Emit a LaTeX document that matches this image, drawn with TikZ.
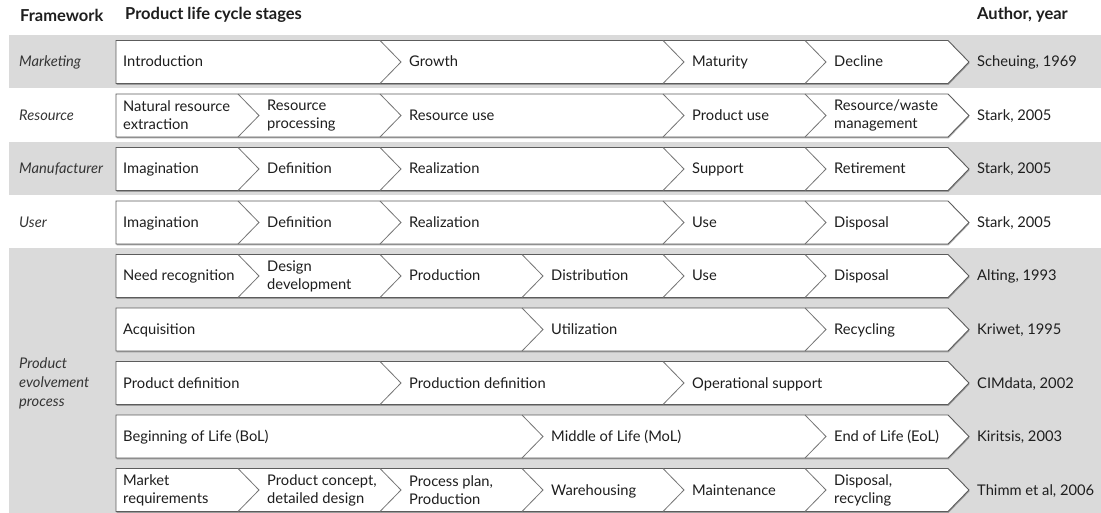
\documentclass[tikz,border=0pt]{standalone}
\usepackage{fontspec}
\setmainfont{Lato}
\definecolor{plcink}{HTML}{1E1E1E}
\definecolor{plcband}{HTML}{DADADA}
\definecolor{plcedge}{HTML}{5C5C5C}
\usetikzlibrary{shadows}

\begin{document}
\begin{tikzpicture}[x=1pt,y=-1pt,
  font=\fontsize{14.7}{18}\selectfont,
  headtext/.style={anchor=west,inner sep=0pt,text=plcink,font=\fontsize{16.5}{19}\selectfont\bfseries},
  frametext/.style={anchor=west,inner sep=0pt,text=plcink!90,align=left,font=\fontsize{14.7}{19}\selectfont\itshape},
  stagetext/.style={anchor=west,inner sep=0pt,text=plcink,text height=11pt,text depth=1pt},
  stagetwo/.style={anchor=west,inner sep=0pt,text=plcink,align=left},
  authortext/.style={anchor=west,inner sep=0pt,text=plcink,text height=11pt,text depth=1pt},
  band/.style={fill=plcband},
  rowbox/.style={draw=plcedge,line width=0.9pt,fill=white,
    drop shadow={shadow xshift=0.5pt,shadow yshift=-1.4pt,fill=black!55,opacity=0.6}},
  wire/.style={draw=plcedge!85,line width=0.8pt}
]
\useasboundingbox (0,0) rectangle (1101,513);
% shaded bands
\fill[band] (9,35) rectangle (1101,88);
\fill[band] (9,142) rectangle (1101,195);
\fill[band] (9,248) rectangle (1101,513);
% column heads
\node[headtext] (hframe) at (20,15) {Framework};
\node[headtext] (hstages) at (125,15) {Product life cycle stages};
\node[headtext] (hauthor) at (977,15) {Author, year};
% frameworks
\node[frametext] (fmarket) at (19,62) {Marketing};
\node[frametext] (fresource) at (19,115.5) {Resource};
\node[frametext] (fmanuf) at (19,169) {Manufacturer};
\node[frametext] (fuser) at (19,222.5) {User};
\node[frametext] (fpep) at (19,383) {Product\\evolvement\\process};
% row outlines
\foreach \t in {40.5,94,147.5,201,254.5,308,361.5,415,468.5}
  \draw[rowbox] (116,\t) -- ++(832,0) -- ++(21,21.5) -- ++(-21,21.5) -- ++(-832,0) -- cycle;
% Marketing
\draw[wire] (380,40.5) -- ++(21,21.5) -- ++(-21,21.5) (663,40.5) -- ++(21,21.5) -- ++(-21,21.5)
  (805,40.5) -- ++(21,21.5) -- ++(-21,21.5);
\node[stagetext] (intro) at (123,62) {Introduction};
\node[stagetext] (growth) at (409,62) {Growth};
\node[stagetext] (maturity) at (692,62) {Maturity};
\node[stagetext] (decline) at (834,62) {Decline};
\node[authortext] (scheuing) at (977,62) {Scheuing, 1969};
% Resource
\draw[wire] (238,94) -- ++(21,21.5) -- ++(-21,21.5) (380,94) -- ++(21,21.5) -- ++(-21,21.5)
  (663,94) -- ++(21,21.5) -- ++(-21,21.5) (805,94) -- ++(21,21.5) -- ++(-21,21.5);
\node[stagetwo] (extract) at (123,115.5) {Natural resource\\extraction};
\node[stagetwo] (rprocess) at (267,115.5) {Resource\\processing};
\node[stagetext] (ruse) at (409,115.5) {Resource use};
\node[stagetext] (puse) at (692,115.5) {Product use};
\node[stagetwo] (waste) at (834,115.5) {Resource/waste\\management};
\node[authortext] (stark1) at (977,115.5) {Stark, 2005};
% Manufacturer
\draw[wire] (238,147.5) -- ++(21,21.5) -- ++(-21,21.5) (380,147.5) -- ++(21,21.5) -- ++(-21,21.5)
  (663,147.5) -- ++(21,21.5) -- ++(-21,21.5) (805,147.5) -- ++(21,21.5) -- ++(-21,21.5);
\node[stagetext] (mimag) at (123,169) {Imagination};
\node[stagetext] (mdef) at (267,169) {Definition};
\node[stagetext] (mreal) at (409,169) {Realization};
\node[stagetext] (msupport) at (692,169) {Support};
\node[stagetext] (mretire) at (834,169) {Retirement};
\node[authortext] (stark2) at (977,169) {Stark, 2005};
% User
\draw[wire] (238,201) -- ++(21,21.5) -- ++(-21,21.5) (380,201) -- ++(21,21.5) -- ++(-21,21.5)
  (663,201) -- ++(21,21.5) -- ++(-21,21.5) (805,201) -- ++(21,21.5) -- ++(-21,21.5);
\node[stagetext] (uimag) at (123,222.5) {Imagination};
\node[stagetext] (udef) at (267,222.5) {Definition};
\node[stagetext] (ureal) at (409,222.5) {Realization};
\node[stagetext] (uuse) at (692,222.5) {Use};
\node[stagetext] (udisp) at (834,222.5) {Disposal};
\node[authortext] (stark3) at (977,222.5) {Stark, 2005};
% Product evolvement process
\draw[wire] (238,254.5) -- ++(21,21.5) -- ++(-21,21.5) (380,254.5) -- ++(21,21.5) -- ++(-21,21.5)
  (522,254.5) -- ++(21,21.5) -- ++(-21,21.5) (663,254.5) -- ++(21,21.5) -- ++(-21,21.5)
  (805,254.5) -- ++(21,21.5) -- ++(-21,21.5);
\node[stagetext] (need) at (123,276) {Need recognition};
\node[stagetwo] (design) at (267,276) {Design\\development};
\node[stagetext] (aprod) at (409,276) {Production};
\node[stagetext] (adist) at (551,276) {Distribution};
\node[stagetext] (ause) at (692,276) {Use};
\node[stagetext] (adisp) at (834,276) {Disposal};
\node[authortext] (alting) at (977,276) {Alting, 1993};
\draw[wire] (522,308) -- ++(21,21.5) -- ++(-21,21.5) (805,308) -- ++(21,21.5) -- ++(-21,21.5);
\node[stagetext] (acquire) at (123,329.5) {Acquisition};
\node[stagetext] (utilize) at (551,329.5) {Utilization};
\node[stagetext] (recycle) at (834,329.5) {Recycling};
\node[authortext] (kriwet) at (977,329.5) {Kriwet, 1995};
\draw[wire] (380,361.5) -- ++(21,21.5) -- ++(-21,21.5) (663,361.5) -- ++(21,21.5) -- ++(-21,21.5);
\node[stagetext] (pdef) at (123,383) {Product definition};
\node[stagetext] (prodef) at (409,383) {Production definition};
\node[stagetext] (opsup) at (692,383) {Operational support};
\node[authortext] (cimdata) at (977,383) {CIMdata, 2002};
\draw[wire] (522,415) -- ++(21,21.5) -- ++(-21,21.5) (805,415) -- ++(21,21.5) -- ++(-21,21.5);
\node[stagetext] (bol) at (123,436.5) {Beginning of Life (BoL)};
\node[stagetext] (mol) at (551,436.5) {Middle of Life (MoL)};
\node[stagetext] (eol) at (834,436.5) {End of Life (EoL)};
\node[authortext] (kiritsis) at (977,436.5) {Kiritsis, 2003};
\draw[wire] (238,468.5) -- ++(21,21.5) -- ++(-21,21.5) (380,468.5) -- ++(21,21.5) -- ++(-21,21.5)
  (522,468.5) -- ++(21,21.5) -- ++(-21,21.5) (663,468.5) -- ++(21,21.5) -- ++(-21,21.5)
  (805,468.5) -- ++(21,21.5) -- ++(-21,21.5);
\node[stagetwo] (market) at (123,490) {Market\\requirements};
\node[stagetwo] (concept) at (267,490) {Product concept,\\detailed design};
\node[stagetwo] (plan) at (409,490) {Process plan,\\Production};
\node[stagetext] (store) at (551,490) {Warehousing};
\node[stagetext] (maint) at (692,490) {Maintenance};
\node[stagetwo] (tdisp) at (834,490) {Disposal,\\recycling};
\node[authortext] (thimm) at (977,490) {Thimm et al, 2006};
\end{tikzpicture}
\end{document}
